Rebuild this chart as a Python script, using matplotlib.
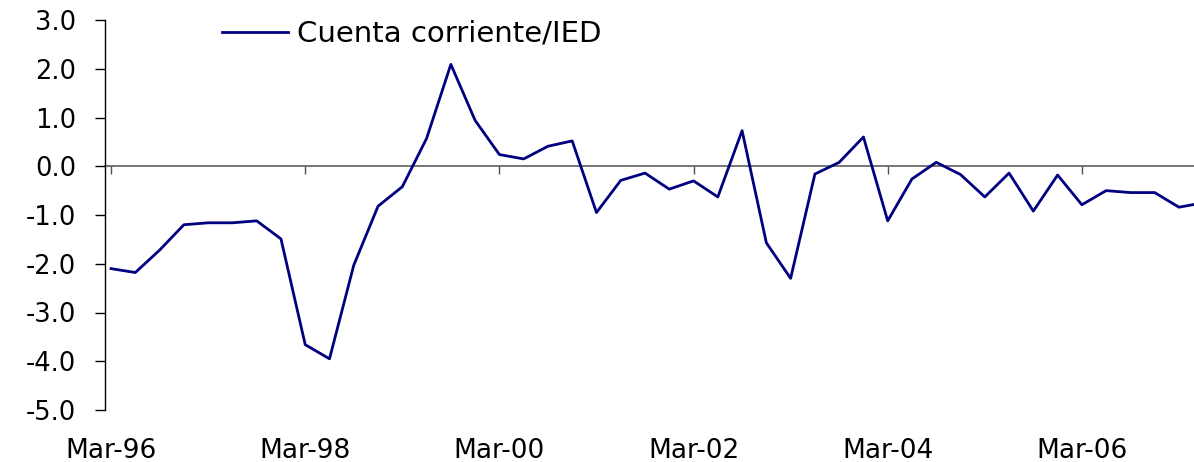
import numpy as np
import matplotlib.pyplot as plt

plt.rcParams["font.family"] = ["DejaVu Sans"]

# Cuenta corriente / IED, quarterly, Mar-96 onwards
SERIES_NAME = "Cuenta corriente/IED"
VALUES = [-2.10, -2.18, -1.72, -1.20, -1.16, -1.16, -1.12, -1.49, -3.66, -3.95,
          -2.03, -0.82, -0.42, 0.57, 2.09, 0.94, 0.24, 0.15, 0.41, 0.52,
          -0.95, -0.29, -0.14, -0.47, -0.30, -0.63, 0.73, -1.57, -2.30, -0.16,
          0.08, 0.60, -1.12, -0.26, 0.08, -0.17, -0.63, -0.14, -0.92, -0.18,
          -0.79, -0.50, -0.54, -0.54, -0.84, -0.75]
TICK_LABELS = ["Mar-96", "Mar-98", "Mar-00", "Mar-02", "Mar-04", "Mar-06"]
Y_TICKS = [3.0, 2.0, 1.0, 0.0, -1.0, -2.0, -3.0, -4.0, -5.0]

LINE_COLOR = "#000080"
ZERO_COLOR = "#505050"

W, H = 1194, 462
fig = plt.figure(figsize=(W / 100, H / 100), dpi=100)
ax = fig.add_axes([105 / W, 52 / H, 1089 / W, 390 / H])

x = np.arange(len(VALUES))
ax.plot(x, VALUES, color=LINE_COLOR, lw=2.0, label=SERIES_NAME, zorder=3)

ax.set_xlim(-0.25, 44.62)
ax.set_ylim(-5, 3)

# y axis
ax.set_yticks(Y_TICKS)
ax.set_yticklabels([f"{v:.1f}" for v in Y_TICKS], fontsize=18.5)
ax.tick_params(axis="y", direction="out", length=7.2, width=1.0, pad=13.5,
               color="black")
for side in ("top", "right", "bottom"):
    ax.spines[side].set_visible(False)
ax.spines["left"].set_linewidth(1.0)

# category labels sit at the bottom, tick marks on the zero line
ax.set_xticks(x[::8])
ax.set_xticklabels(TICK_LABELS, fontsize=19)
ax.tick_params(axis="x", length=0, pad=20)

zero_ax = ax.secondary_xaxis(5 / 8)
zero_ax.set_xticks(x[::8])
zero_ax.set_xticklabels([])
zero_ax.tick_params(axis="x", direction="in", length=5.8, width=1.0,
                    color=ZERO_COLOR)
for side in ("top", "bottom"):
    zero_ax.spines[side].set_color(ZERO_COLOR)
    zero_ax.spines[side].set_linewidth(1.1)

ax.legend(loc="center left", bbox_to_anchor=(222 / W, 1 - 34 / H),
          bbox_transform=fig.transFigure, frameon=False, fontsize=21,
          borderpad=0, borderaxespad=0, handlelength=2.26, handletextpad=0.3)

fig.savefig("out.png", dpi=100)
